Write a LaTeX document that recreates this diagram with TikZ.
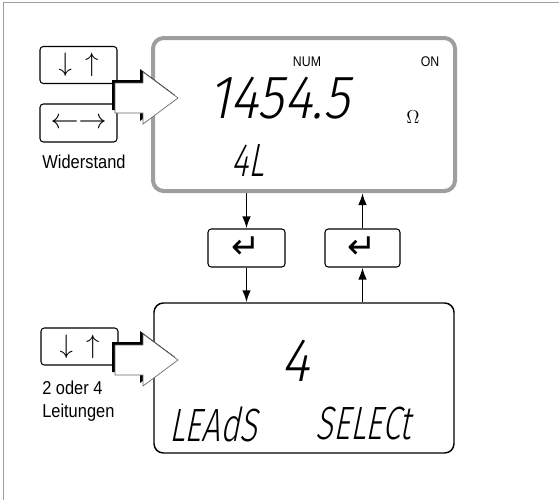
\documentclass[tikz,border=0pt]{standalone}
\usepackage{fix-cm}
\usepackage{fontspec}
\setmainfont{Liberation Sans}[FakeStretch=0.88]
\newfontfamily\lcdfont{Fira Sans Light}[FakeSlant=0.2,FakeStretch=0.88]
\newfontfamily\lcdnarrow{Fira Sans Light}[FakeSlant=0.2,FakeStretch=0.7]
\newfontfamily\symfont{DejaVu Sans}
\usetikzlibrary{arrows.meta}

\begin{document}
\begin{tikzpicture}[x=0.75pt,y=-0.75pt,
  lcd/.style={font=\lcdfont\fontsize{46}{46}\selectfont,inner sep=0pt},
  lcdsmall/.style={font=\lcdnarrow\fontsize{35}{35}\selectfont,inner sep=0pt},
  keybox/.style={draw,rounded corners=2.5pt,line width=0.8pt,minimum width=57.75pt,minimum height=27.75pt,inner sep=0pt,font=\fontsize{20}{20}\selectfont},
  conn/.style={line width=1.4pt,-{Latex[length=9pt,width=6.5pt]}},
  lbl/.style={font=\fontsize{14}{17}\selectfont,inner sep=0pt}]
\useasboundingbox (0,0) rectangle (559,500);
\draw[black!38] (3,500)--(3,2)--(559,2);

% displays
\node[draw=black!38,line width=3pt,rounded corners=8pt,minimum width=226.5pt,minimum height=114.75pt] (disp1) at (304,114.5) {};
\node[draw,line width=1.1pt,rounded corners=7pt,minimum width=225pt,minimum height=112.5pt] (disp2) at (304,378) {};

\node[font=\fontsize{10.5}{12}\selectfont] (num) at (307,62) {NUM};
\node[font=\fontsize{10.5}{12}\selectfont] (on) at (430,62) {ON};
\node[lcd] (value) at (279,98) {1454.5};
\node[font=\fontsize{14}{14}\selectfont] (ohm) at (413,117) {$\Omega$};
\node[lcdsmall] (wires) at (248,161) {4L};
\node[lcd] (count) at (295,361) {4};
\node[lcdsmall] (leads) at (213,424) {LEAdS};
\node[lcdsmall] (select) at (363,424) {SELECt};

% keys
\node[keybox] (updown) at (78.5,65) {$\downarrow\hspace{0.5em}\uparrow$};
\node[keybox,minimum height=28.5pt,font=\fontsize{21}{21}\selectfont] (leftright) at (78.5,123) {$\leftarrow\rightarrow$};
\node[lbl] (res) at (84,162) {Widerstand};
\node[keybox] (updown2) at (79.5,346.5) {$\downarrow\hspace{0.5em}\uparrow$};
\node[lbl,align=left,anchor=west] (leitg) at (42,401) {2 oder 4\\Leitungen};

\node[keybox,minimum height=28.5pt] (ent1) at (246.5,248) {\symfont\fontsize{26}{26}\selectfont ↵};
\node[keybox,minimum height=28.5pt,minimum width=56.25pt] (ent2) at (362.5,248) {\symfont\fontsize{26}{26}\selectfont ↵};

% big arrows
\foreach \yc in {98,360}{
  \fill[shift={(-3,-3)}] (115,\yc-15)--(143,\yc-15)--(143,\yc-26)--(178,\yc)--(143,\yc+26)--(143,\yc+15)--(115,\yc+15)--cycle;
  \filldraw[fill=white,draw=black!60,line width=0.5pt] (115,\yc-15)--(143,\yc-15)--(143,\yc-26)--(178,\yc)--(143,\yc+26)--(143,\yc+15)--(115,\yc+15)--cycle;
}

% connectors
\draw[conn] (ent1.north |- disp1.south)--(ent1.north);
\draw[conn] (ent1.south)--(ent1.south |- disp2.north);
\draw[conn] (ent2.south |- disp2.north)--(ent2.south);
\draw[conn] (ent2.north)--(ent2.north |- disp1.south);
\end{tikzpicture}
\end{document}
